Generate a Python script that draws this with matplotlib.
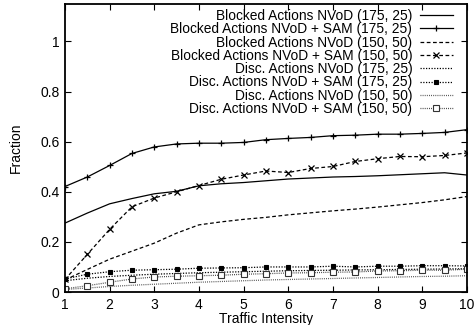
import matplotlib
matplotlib.use("Agg")
import matplotlib.pyplot as plt
import numpy as np

plt.rcParams['font.family'] = ['Liberation Sans', 'DejaVu Sans']

traffic = [1, 1.5, 2, 2.5, 3, 3.5, 4, 4.5, 5, 5.5, 6, 6.5, 7, 7.5, 8, 8.5, 9, 9.5, 10]

blocked_nvod_175 = [0.275, 0.315, 0.352, 0.373, 0.392, 0.402, 0.424, 0.432, 0.437, 0.444, 0.451, 0.455, 0.459, 0.461, 0.464, 0.468, 0.472, 0.476, 0.467]
blocked_sam_175 = [0.421, 0.459, 0.505, 0.553, 0.579, 0.591, 0.594, 0.594, 0.597, 0.608, 0.613, 0.617, 0.624, 0.626, 0.630, 0.630, 0.633, 0.637, 0.648]
blocked_nvod_150 = [0.048, 0.090, 0.131, 0.163, 0.195, 0.235, 0.268, 0.280, 0.290, 0.298, 0.308, 0.316, 0.324, 0.331, 0.339, 0.348, 0.357, 0.368, 0.381]
blocked_sam_150 = [0.050, 0.150, 0.250, 0.340, 0.375, 0.400, 0.425, 0.450, 0.467, 0.483, 0.477, 0.493, 0.501, 0.521, 0.532, 0.541, 0.540, 0.545, 0.555]
disc_nvod_175 = [0.045, 0.055, 0.062, 0.067, 0.071, 0.074, 0.077, 0.079, 0.081, 0.083, 0.085, 0.086, 0.087, 0.088, 0.089, 0.090, 0.091, 0.092, 0.093]
disc_sam_175 = [0.052, 0.071, 0.081, 0.087, 0.089, 0.091, 0.095, 0.096, 0.097, 0.100, 0.100, 0.100, 0.103, 0.100, 0.103, 0.103, 0.105, 0.105, 0.104]
disc_nvod_150 = [0.010, 0.016, 0.022, 0.027, 0.031, 0.035, 0.039, 0.042, 0.045, 0.048, 0.050, 0.052, 0.054, 0.056, 0.058, 0.060, 0.062, 0.063, 0.065]
disc_sam_150 = [0.013, 0.025, 0.039, 0.052, 0.060, 0.063, 0.065, 0.067, 0.071, 0.073, 0.076, 0.077, 0.079, 0.080, 0.084, 0.085, 0.087, 0.087, 0.091]

labels = [
    "Blocked Actions NVoD (175, 25)",
    "Blocked Actions NVoD + SAM (175, 25)",
    "Blocked Actions NVoD (150, 50)",
    "Blocked Actions NVoD + SAM (150, 50)",
    "Disc. Actions NVoD (175, 25)",
    "Disc. Actions NVoD + SAM (175, 25)",
    "Disc. Actions NVoD (150, 50)",
    "Disc. Actions NVoD + SAM (150, 50)",
]
x_ticks = [1, 2, 3, 4, 5, 6, 7, 8, 9, 10]
y_ticks = [0, 0.2, 0.4, 0.6, 0.8, 1]
y_tick_labels = ["0", "0.2", "0.4", "0.6", "0.8", "1"]

fig = plt.figure(figsize=(4.74, 3.25), dpi=100)
ax = fig.add_axes([0.137, 0.1015, 0.848, 0.8865])

lw = 0.9
series = [
    (blocked_nvod_175, dict(color='black', ls='-', lw=lw)),
    (blocked_sam_175, dict(color='black', ls='-', lw=lw, marker='+', ms=5, mew=0.9)),
    (blocked_nvod_150, dict(color='black', ls=(0, (3, 2)), lw=lw)),
    (blocked_sam_150, dict(color='black', ls=(0, (3, 2)), lw=lw, marker='x', ms=4.5, mew=0.9)),
    (disc_nvod_175, dict(color='black', ls=(0, (1, 1.2)), lw=lw)),
    (disc_sam_175, dict(color='black', ls=(0, (1, 1.2)), lw=lw, marker='s', ms=3.5, mfc='black', mew=0.8)),
    (disc_nvod_150, dict(color='#444444', ls=(0, (0.7, 1.0)), lw=lw)),
    (disc_sam_150, dict(color='#333333', ls=(0, (0.7, 1.0)), lw=lw, marker='s', ms=4, mfc='white', mew=0.8)),
]
for (vals, style), lab in zip(series, labels):
    ax.plot(traffic, vals, label=lab, **style)

ax.set_xlim(1, 10)
ax.set_ylim(0, 1.15)
ax.set_xticks(x_ticks)
ax.set_xticklabels([str(t) for t in x_ticks])
ax.set_yticks(y_ticks)
ax.set_yticklabels(y_tick_labels)
ax.tick_params(direction='in', length=4, width=0.8, top=True, right=True, labelsize=10, pad=4)
for s in ax.spines.values():
    s.set_linewidth(1.3)

ax.set_xlabel("Traffic Intensity", fontsize=10, labelpad=0)
ax.set_ylabel("Fraction", fontsize=10, labelpad=12)

leg = ax.legend(loc='upper right', bbox_to_anchor=(388 / 402, 1 - 5 / 288),
                frameon=False, markerfirst=False, fontsize=9.9,
                handlelength=2.4, handletextpad=0.55, labelspacing=-0.05,
                borderaxespad=0.0, borderpad=0.0)

fig.savefig("out.png", dpi=100)
